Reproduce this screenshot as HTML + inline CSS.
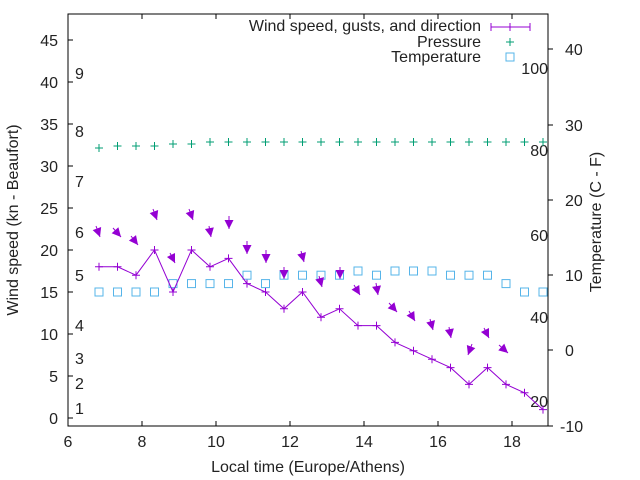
<!DOCTYPE html><html><head><style>body{margin:0;background:#fff}svg{display:block;font-family:"Liberation Sans",sans-serif;font-size:16px;fill:#222}</style></head><body>
<svg width="640" height="480" xmlns="http://www.w3.org/2000/svg" xmlns:xlink="http://www.w3.org/1999/xlink">
<defs>
<marker id="pl" markerUnits="userSpaceOnUse" markerWidth="10" markerHeight="10" refX="5" refY="5" overflow="visible"><path d="M1 5h8M5 1v8" stroke="#9400d3" fill="none"/></marker>
<marker id="ah" markerUnits="userSpaceOnUse" markerWidth="10" markerHeight="10" refX="9" refY="4.5" orient="auto" overflow="visible"><path d="M0 0L9 4.5L0 9z" fill="#9400d3" stroke="none"/></marker>
<path id="gp" d="M-4 0h8M0 -4v8" stroke="#009e73" fill="none"/>
<rect id="sq" x="-4" y="-4" width="8" height="8" fill="none" stroke="#56b4e9"/>
</defs>
<rect x="68" y="14" width="480" height="412" fill="none" stroke="#000" stroke-width="1"/>
<g stroke="#000">
<path d="M68 418h5M68 376h5M68 334h5M68 292h5M68 250h5M68 208h5M68 166h5M68 124h5M68 82h5M68 40h5"/>
<path d="M142 426v-5M216 426v-5M290 426v-5M364 426v-5M438 426v-5M512 426v-5M142 14v5M216 14v5M290 14v5M364 14v5M438 14v5M512 14v5"/>
<path d="M548 49h5M548 125h5M548 200h5M548 275h5M548 350h5M548 426h5"/>
</g>
<g text-anchor="end">
<text x="58" y="424">0</text><text x="58" y="382">5</text><text x="58" y="340">10</text><text x="58" y="298">15</text><text x="58" y="256">20</text><text x="58" y="214">25</text><text x="58" y="172">30</text><text x="58" y="130">35</text><text x="58" y="88">40</text><text x="58" y="46">45</text>
<text x="548" y="74">100</text><text x="548" y="156">80</text><text x="548" y="241">60</text><text x="548" y="323">40</text><text x="548" y="407">20</text>
<text x="481" y="31">Wind speed, gusts, and direction</text><text x="481" y="47">Pressure</text><text x="481" y="62">Temperature</text>
</g>
<g>
<text x="75" y="79">9</text><text x="75" y="137">8</text><text x="75" y="187">7</text><text x="75" y="238">6</text><text x="75" y="281">5</text><text x="75" y="331">4</text><text x="75" y="364">3</text><text x="75" y="389">2</text><text x="75" y="414">1</text>
<text x="565" y="55">40</text><text x="565" y="131">30</text><text x="565" y="206">20</text><text x="565" y="281">10</text><text x="565" y="356">0</text><text x="560" y="432">-10</text>
</g>
<g text-anchor="middle">
<text x="68" y="447">6</text><text x="142" y="447">8</text><text x="216" y="447">10</text><text x="290" y="447">12</text><text x="364" y="447">14</text><text x="438" y="447">16</text><text x="512" y="447">18</text>
<text x="308" y="472">Local time (Europe/Athens)</text>
<text transform="translate(18,220) rotate(-90)">Wind speed (kn - Beaufort)</text>
<text transform="translate(601,222) rotate(-90)">Temperature (C - F)</text>
</g>
<g>
<use xlink:href="#gp" x="99" y="148"/><use xlink:href="#gp" x="117.5" y="146"/><use xlink:href="#gp" x="136" y="146"/><use xlink:href="#gp" x="154.5" y="146"/><use xlink:href="#gp" x="173" y="144"/><use xlink:href="#gp" x="191.5" y="144"/><use xlink:href="#gp" x="210" y="142"/><use xlink:href="#gp" x="228.5" y="142"/><use xlink:href="#gp" x="247" y="142"/><use xlink:href="#gp" x="265.5" y="142"/><use xlink:href="#gp" x="284" y="142"/><use xlink:href="#gp" x="302.5" y="142"/><use xlink:href="#gp" x="321" y="142"/><use xlink:href="#gp" x="339.5" y="142"/><use xlink:href="#gp" x="358" y="142"/><use xlink:href="#gp" x="376.5" y="142"/><use xlink:href="#gp" x="395" y="142"/><use xlink:href="#gp" x="413.5" y="142"/><use xlink:href="#gp" x="432" y="142"/><use xlink:href="#gp" x="450.5" y="142"/><use xlink:href="#gp" x="469" y="142"/><use xlink:href="#gp" x="487.5" y="142"/><use xlink:href="#gp" x="506" y="142"/><use xlink:href="#gp" x="524.5" y="142"/><use xlink:href="#gp" x="543" y="142"/>
</g>
<g>
<use xlink:href="#sq" x="99" y="292"/><use xlink:href="#sq" x="117.5" y="292"/><use xlink:href="#sq" x="136" y="292"/><use xlink:href="#sq" x="154.5" y="292"/><use xlink:href="#sq" x="173" y="283.6"/><use xlink:href="#sq" x="191.5" y="283.6"/><use xlink:href="#sq" x="210" y="283.6"/><use xlink:href="#sq" x="228.5" y="283.6"/><use xlink:href="#sq" x="247" y="275.2"/><use xlink:href="#sq" x="265.5" y="283.6"/><use xlink:href="#sq" x="284" y="275.2"/><use xlink:href="#sq" x="302.5" y="275.2"/><use xlink:href="#sq" x="321" y="275.2"/><use xlink:href="#sq" x="339.5" y="275.2"/><use xlink:href="#sq" x="358" y="271"/><use xlink:href="#sq" x="376.5" y="275.2"/><use xlink:href="#sq" x="395" y="271"/><use xlink:href="#sq" x="413.5" y="271"/><use xlink:href="#sq" x="432" y="271"/><use xlink:href="#sq" x="450.5" y="275.2"/><use xlink:href="#sq" x="469" y="275.2"/><use xlink:href="#sq" x="487.5" y="275.2"/><use xlink:href="#sq" x="506" y="283.6"/><use xlink:href="#sq" x="524.5" y="292"/><use xlink:href="#sq" x="543" y="292"/>
</g>
<polyline points="99,266.8 117.5,266.8 136,275.2 154.5,250 173,292 191.5,250 210,266.8 228.5,258.4 247,283.6 265.5,292 284,308.8 302.5,292 321,317.2 339.5,308.8 358,325.6 376.5,325.6 395,342.4 413.5,350.8 432,359.2 450.5,367.6 469,384.4 487.5,367.6 506,384.4 524.5,392.8 543,409.6" fill="none" stroke="#9400d3" marker-start="url(#pl)" marker-mid="url(#pl)" marker-end="url(#pl)"/>
<g stroke="#9400d3" marker-end="url(#ah)">
<line x1="96" y1="226" x2="100" y2="237"/>
<line x1="113" y1="228" x2="121" y2="237"/>
<line x1="131" y1="236" x2="138" y2="245"/>
<line x1="153" y1="209" x2="157" y2="220"/>
<line x1="170" y1="253" x2="175" y2="263"/>
<line x1="189" y1="209" x2="193" y2="220"/>
<line x1="209" y1="226" x2="211" y2="237"/>
<line x1="229" y1="216" x2="229" y2="229"/>
<line x1="247" y1="241" x2="247" y2="254"/>
<line x1="266" y1="250" x2="266" y2="263"/>
<line x1="284" y1="267" x2="284" y2="279"/>
<line x1="301" y1="251" x2="304" y2="262"/>
<line x1="319" y1="276" x2="322" y2="287"/>
<line x1="340" y1="267" x2="340" y2="279"/>
<line x1="354" y1="285" x2="360" y2="295"/>
<line x1="376" y1="283" x2="378" y2="295"/>
<line x1="389" y1="303" x2="397" y2="312"/>
<line x1="409" y1="311" x2="415" y2="321"/>
<line x1="430" y1="319" x2="433" y2="330"/>
<line x1="449" y1="327" x2="451" y2="338"/>
<line x1="472" y1="344" x2="468" y2="355"/>
<line x1="484" y1="328" x2="489" y2="338"/>
<line x1="499" y1="345" x2="508" y2="353"/>
</g>
<path d="M491 27h39M491 23v8M530 23v8M510 23v8" stroke="#9400d3"/>
<path d="M506 42h8M510 38v8" stroke="#009e73"/>
<rect x="506" y="53" width="8" height="8" fill="none" stroke="#56b4e9"/>
</svg></body></html>
